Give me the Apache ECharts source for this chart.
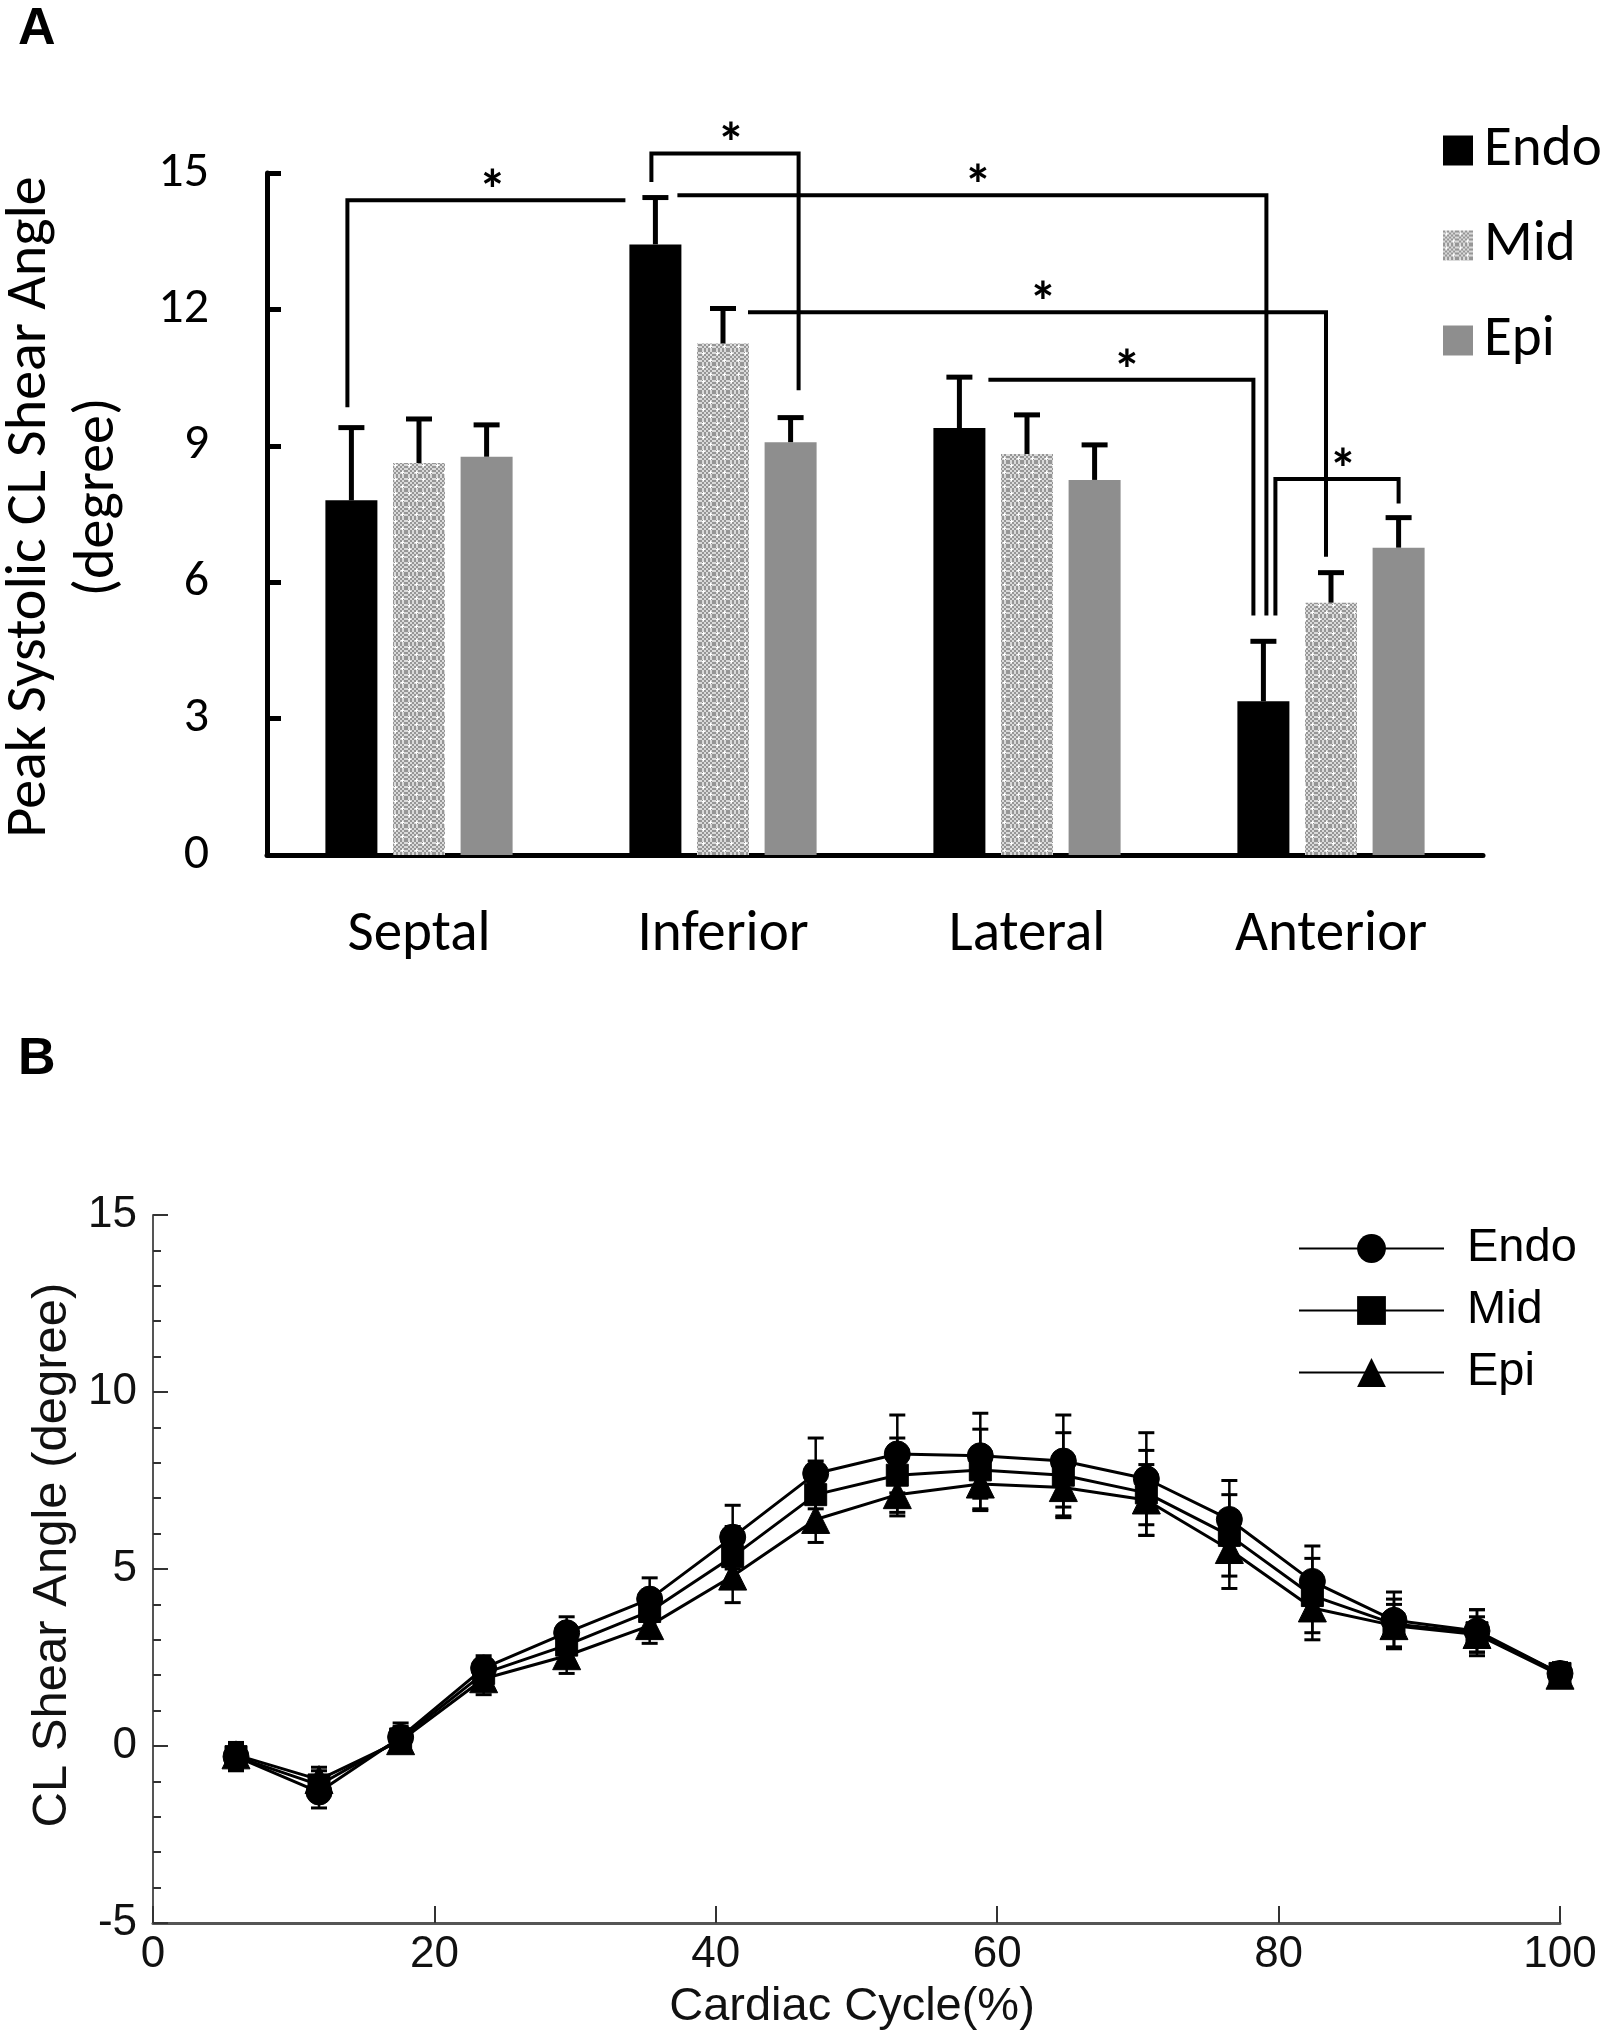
<!DOCTYPE html>
<html><head><meta charset="utf-8">
<script src="https://cdn.jsdelivr.net/npm/echarts@6/dist/echarts.min.js"></script>
<style>
html,body{margin:0;padding:0;background:#fff;}
#a{position:absolute;left:0;top:0;width:1604px;height:1020px;}
#b{position:absolute;left:0;top:1020px;width:1604px;height:1020px;}
</style>
</head><body><div id="a"></div><div id="b"></div>
<script>
// ---------- Panel A data ----------
const regions = ['Septal', 'Inferior', 'Lateral', 'Anterior'];
const layers = ['Endo', 'Mid', 'Epi'];
const peakEndo = [7.8, 13.43, 9.39, 3.38];
const peakMid = [8.62, 11.25, 8.82, 5.55];
const peakEpi = [8.76, 9.08, 8.25, 6.76];
const sdEndo = [1.6, 1.03, 1.12, 1.32];
const sdMid = [0.97, 0.77, 0.86, 0.66];
const sdEpi = [0.7, 0.54, 0.77, 0.66];
// significance brackets: [region index, layer index]
const sigFrom = [[0, 0], [1, 0], [1, 0], [1, 1], [2, 0], [3, 0]];
const sigTo = [[1, 0], [1, 2], [3, 0], [3, 1], [3, 0], [3, 2]];
const sigTop = [14.4, 15.43, 14.51, 11.94, 10.45, 8.27];
const sigFromEnd = [9.85, 14.8, null, null, null, 5.27];
const sigToEnd = [null, 10.22, 5.27, 6.56, 5.27, 7.73];

// ---------- Panel B data ----------
const cyclePct = [5.9, 11.8, 17.6, 23.5, 29.4, 35.3, 41.2, 47.1, 52.9, 58.8, 64.7, 70.6, 76.5, 82.4, 88.2, 94.1, 100];
const angEndo = [-0.3, -1.3, 0.25, 2.2, 3.2, 4.15, 5.9, 7.7, 8.25, 8.2, 8.05, 7.55, 6.4, 4.65, 3.55, 3.25, 2.05];
const angMid = [-0.3, -1.1, 0.2, 2.05, 2.85, 3.8, 5.35, 7.1, 7.65, 7.8, 7.65, 7.15, 5.95, 4.25, 3.45, 3.2, 2.05];
const angEpi = [-0.25, -0.95, 0.15, 1.9, 2.55, 3.4, 4.8, 6.4, 7.1, 7.4, 7.3, 6.95, 5.55, 3.9, 3.4, 3.15, 2.0];
const sdBEndo = [0.4, 0.45, 0.4, 0.35, 0.45, 0.6, 0.9, 1.0, 1.1, 1.2, 1.3, 1.3, 1.1, 1.0, 0.8, 0.6, 0.3];
const sdBMid = [0.35, 0.4, 0.35, 0.4, 0.5, 0.55, 0.85, 0.95, 1.05, 1.15, 1.2, 1.2, 1.15, 1.05, 0.7, 0.65, 0.3];
const sdBEpi = [0.3, 0.35, 0.3, 0.45, 0.5, 0.5, 0.75, 0.65, 0.6, 0.7, 0.8, 1.0, 1.1, 0.9, 0.6, 0.5, 0.25];

// ---------- styles ----------
const fontA = 'Carlito, Lato, sans-serif';
const fontB = '"Liberation Sans", Arial, sans-serif';
const barW = 52, barGapRatio = 0.3;
const barStep = barW * (1 + barGapRatio);
const sigFromNudge = [-4, -4, 22, 25, 29, 12];
const sigToNudge = [-30, 8, 3, -5, -10, 0];
const starLift = 5;

function makePattern() {
  const c = document.createElement('canvas');
  c.width = 14; c.height = 14;
  const g = c.getContext('2d');
  for (let y = 0; y < 14; y += 2) for (let x = 0; x < 14; x += 2) {
    g.fillStyle = ((x + y) / 2) % 2 === 0 ? '#969696' : '#dadada';
    g.fillRect(x, y, 2, 2);
  }
  g.fillStyle = '#ffffff';
  g.fillRect(2, 3, 3, 1); g.fillRect(3, 2, 1, 3);
  g.fillRect(9, 10, 3, 1); g.fillRect(10, 9, 1, 3);
  return c;
}
const midPattern = { image: makePattern(), repeat: 'repeat' };
const layerColors = ['#000000', midPattern, '#8e8e8e'];
const peaks = [peakEndo, peakMid, peakEpi];
const sds = [sdEndo, sdMid, sdEpi];

const seriesA = [];
layers.forEach((name, k) => {
  seriesA.push({
    name: name, type: 'bar', barWidth: barW, barGap: (barGapRatio * 100) + '%',
    itemStyle: { color: layerColors[k] }, data: peaks[k], z: 2
  });
});
layers.forEach((name, k) => {
  seriesA.push({
    name: 'sd' + name, type: 'custom', z: 3,
    data: regions.map((r, i) => [i, peaks[k][i], peaks[k][i] + sds[k][i]]),
    renderItem: (params, api) => {
      const ci = api.value(0);
      const b = api.coord([ci, api.value(1)]);
      const t = api.coord([ci, api.value(2)]);
      const x = b[0] + (k - 1) * barStep;
      return { type: 'group', children: [
        { type: 'line', shape: { x1: x, y1: b[1], x2: x, y2: t[1] }, style: { stroke: '#000', lineWidth: 5 } },
        { type: 'line', shape: { x1: x - 13, y1: t[1], x2: x + 13, y2: t[1] }, style: { stroke: '#000', lineWidth: 5 } }
      ] };
    }
  });
});
seriesA.push({
  name: 'sig', type: 'custom', z: 4,
  data: sigTop.map((v, i) => [sigFrom[i][0], v]),
  renderItem: (params, api) => {
    const i = params.dataIndex;
    const xOf = (pair, nudge) => api.coord([pair[0], 0])[0] + (pair[1] - 1) * barStep + nudge;
    const yOf = v => api.coord([0, v])[1];
    const x1 = xOf(sigFrom[i], sigFromNudge[i]);
    const x2 = xOf(sigTo[i], sigToNudge[i]);
    const yt = yOf(sigTop[i]);
    const pts = [];
    if (sigFromEnd[i] != null) pts.push([x1, yOf(sigFromEnd[i])]);
    pts.push([x1, yt]); pts.push([x2, yt]);
    if (sigToEnd[i] != null) pts.push([x2, yOf(sigToEnd[i])]);
    return { type: 'group', children: [
      { type: 'polyline', shape: { points: pts }, style: { stroke: '#000', lineWidth: 4, fill: null } },
      { type: 'text', x: (x1 + x2) / 2 + 6, y: yt - starLift,
        style: { text: '*', fontSize: 56, fontWeight: 'bold', fontFamily: fontA, fill: '#000',
          align: 'center', verticalAlign: 'middle', textAlign: 'center', textVerticalAlign: 'middle' } }
    ] };
  }
});

const chartA = echarts.init(document.getElementById('a'), null, { renderer: 'canvas' });
chartA.setOption({
  animation: false,
  backgroundColor: '#fff',
  grid: { left: 267, right: 121, top: 173, bottom: 165, containLabel: false, outerBoundsMode: 'none' },
  legend: {
    data: layers, orient: 'vertical', left: 1438, top: 117, icon: 'rect',
    itemWidth: 30, itemHeight: 30, itemGap: 38, selectedMode: false,
    textStyle: { fontSize: 57, lineHeight: 56, fontFamily: fontA, color: '#000', padding: [0, 0, 0, 6] }
  },
  xAxis: {
    type: 'category', data: regions,
    axisLine: { show: true, lineStyle: { color: '#000', width: 5 } },
    axisTick: { show: false },
    axisLabel: { fontSize: 57, fontFamily: fontA, color: '#000', margin: 52 },
    splitLine: { show: false }
  },
  yAxis: {
    type: 'value', min: 0, max: 15, interval: 3,
    axisLine: { show: true, lineStyle: { color: '#000', width: 5 } },
    axisTick: { show: true, inside: true, length: 14, lineStyle: { color: '#000', width: 5 } },
    axisLabel: { fontSize: 50, fontFamily: fontA, color: '#000', margin: 58 },
    splitLine: { show: false }
  },
  graphic: [
    { type: 'text', left: 18, top: 4, style: { text: 'A', fontSize: 52, fontWeight: 'bold', fontFamily: fontB, fill: '#000' } },
    { type: 'text', x: 30, y: 507, rotation: Math.PI / 2,
      style: { text: 'Peak Systolic CL Shear Angle', fontSize: 58, fontFamily: fontA, fill: '#000',
        align: 'center', verticalAlign: 'middle', textAlign: 'center', textVerticalAlign: 'middle' } },
    { type: 'text', x: 98, y: 497, rotation: Math.PI / 2,
      style: { text: '(degree)', fontSize: 58, fontFamily: fontA, fill: '#000',
        align: 'center', verticalAlign: 'middle', textAlign: 'center', textVerticalAlign: 'middle' } }
  ],
  series: seriesA
});

// ---------- Panel B ----------
const angs = [angEndo, angMid, angEpi];
const sdB = [sdBEndo, sdBMid, sdBEpi];
const symbols = ['circle', 'rect', 'triangle'];
const symSizes = [26, 22, 28];
const seriesB = [];
layers.forEach((name, k) => {
  seriesB.push({
    name: 'sdB' + name, type: 'custom', z: 2,
    data: cyclePct.map((x, i) => [x, angs[k][i], sdB[k][i]]),
    renderItem: (params, api) => {
      const x = api.value(0), y = api.value(1), e = api.value(2);
      const p = api.coord([x, y + e]), q = api.coord([x, y - e]);
      return { type: 'group', children: [
        { type: 'line', shape: { x1: p[0], y1: p[1], x2: q[0], y2: q[1] }, style: { stroke: '#000', lineWidth: 2.5 } },
        { type: 'line', shape: { x1: p[0] - 8, y1: p[1], x2: p[0] + 8, y2: p[1] }, style: { stroke: '#000', lineWidth: 3 } },
        { type: 'line', shape: { x1: q[0] - 8, y1: q[1], x2: q[0] + 8, y2: q[1] }, style: { stroke: '#000', lineWidth: 3 } }
      ] };
    }
  });
});
layers.forEach((name, k) => {
  seriesB.push({
    name: name, type: 'line', z: 3,
    data: cyclePct.map((x, i) => [x, angs[k][i]]),
    symbol: symbols[k], symbolSize: symSizes[k], showSymbol: true,
    lineStyle: { color: '#000', width: 3 },
    itemStyle: { color: '#000', borderColor: '#000' }
  });
});

const chartB = echarts.init(document.getElementById('b'), null, { renderer: 'canvas' });
chartB.setOption({
  animation: false,
  backgroundColor: '#fff',
  grid: { left: 153, right: 44, top: 195, bottom: 117, containLabel: false, outerBoundsMode: 'none' },
  legend: {
    data: layers, orient: 'vertical', left: 1293, top: 200,
    itemWidth: 145, itemHeight: 36, itemGap: 15, selectedMode: false,
    textStyle: { fontSize: 47, lineHeight: 46, fontFamily: fontB, color: '#000', padding: [0, 0, 0, 18] }
  },
  xAxis: {
    type: 'value', min: 0, max: 100, interval: 20,
    axisLine: { show: true, onZero: false, lineStyle: { color: '#555', width: 3 } },
    axisTick: { show: true, inside: true, length: 17, lineStyle: { color: '#333', width: 2 } },
    axisLabel: { fontSize: 44, fontFamily: fontB, color: '#111', margin: 10 },
    splitLine: { show: false }
  },
  yAxis: {
    type: 'value', min: -5, max: 15, interval: 5,
    axisLine: { show: true, onZero: false, lineStyle: { color: '#555', width: 2 } },
    axisTick: { show: true, inside: true, length: 15, lineStyle: { color: '#333', width: 2 } },
    minorTick: { show: true, splitNumber: 5, length: 8, lineStyle: { color: '#333', width: 2 } },
    axisLabel: { fontSize: 44, fontFamily: fontB, color: '#111', margin: 16 },
    splitLine: { show: false }, minorSplitLine: { show: false }
  },
  graphic: [
    { type: 'text', left: 18, top: 14, style: { text: 'B', fontSize: 52, fontWeight: 'bold', fontFamily: fontB, fill: '#000' } },
    { type: 'text', x: 52, y: 535, rotation: Math.PI / 2,
      style: { text: 'CL Shear Angle (degree)', fontSize: 49, fontFamily: fontB, fill: '#111',
        align: 'center', verticalAlign: 'middle', textAlign: 'center', textVerticalAlign: 'middle' } },
    { type: 'text', x: 852, y: 987,
      style: { text: 'Cardiac Cycle(%)', fontSize: 47, fontFamily: fontB, fill: '#111',
        align: 'center', verticalAlign: 'middle', textAlign: 'center', textVerticalAlign: 'middle' } }
  ],
  series: seriesB
});
</script></body></html>
